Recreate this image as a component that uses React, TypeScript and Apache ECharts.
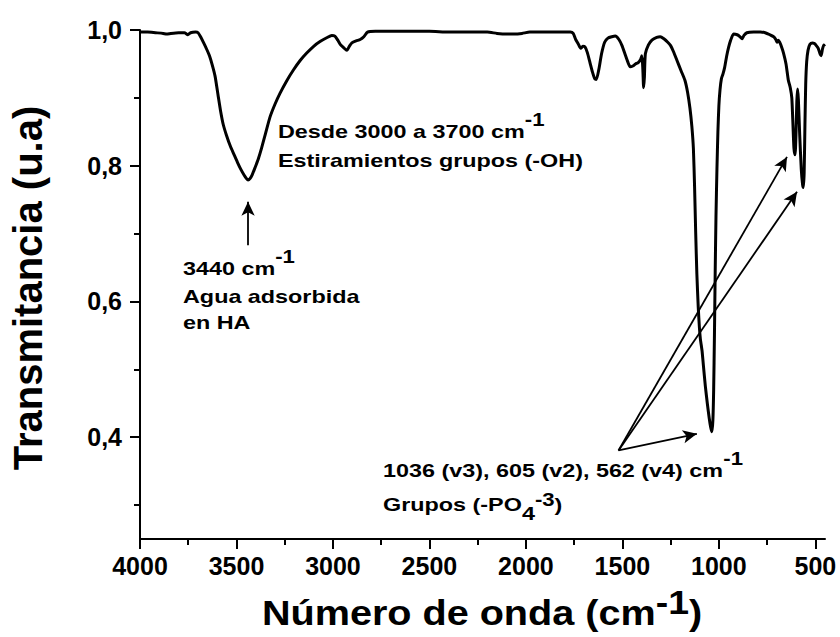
import React, { useEffect, useRef } from "react";
import * as echarts from "echarts";

// FTIR spectrum of hydroxyapatite (HA)
const wavenumber = [
  4000, 3960, 3920, 3880, 3862, 3840, 3800, 3770, 3752, 3738, 3712, 3699, 3686, 3670, 3655, 3640,
  3625, 3611, 3596, 3582, 3568, 3552, 3532, 3512, 3495, 3478, 3460, 3448, 3440, 3430, 3418, 3404,
  3387, 3370, 3350, 3326, 3300, 3274, 3240, 3205, 3170, 3136, 3100, 3067, 3030, 3006, 2990, 2975,
  2960, 2945, 2928, 2915, 2902, 2880, 2859, 2840, 2821, 2780, 2700, 2600, 2500, 2400, 2300, 2200,
  2150, 2100, 2060, 2020, 1980, 1900, 1822, 1770, 1755, 1742, 1728, 1716, 1705, 1694, 1682, 1668,
  1655, 1643, 1635, 1622, 1608, 1592, 1575, 1555, 1537, 1518, 1502, 1487, 1472, 1460, 1446, 1432,
  1418, 1405, 1399, 1394, 1390, 1386, 1381, 1365, 1347, 1322, 1304, 1285, 1265, 1250, 1235, 1217,
  1196, 1176, 1162, 1150, 1140, 1132, 1126, 1120, 1114, 1107, 1101, 1096, 1091, 1087, 1080, 1070,
  1060, 1050, 1042, 1036, 1031, 1027, 1023, 1019, 1015, 1010, 1005, 1000, 994, 987, 979, 970,
  960, 950, 940, 924, 905, 890, 880, 870, 855, 820, 785, 760, 735, 715, 705, 698,
  692, 685, 675, 665, 652, 640, 630, 622, 616, 611, 605, 600, 596, 592, 588, 581,
  573, 566, 562, 558, 554, 550, 545, 538, 528, 515, 505, 495, 485, 476, 470, 463,
  456, 452,
];

const transmittance = [
  0.997, 0.997, 0.996, 0.995, 0.994, 0.995, 0.996, 0.996, 0.993, 0.996, 0.997, 0.996, 0.99, 0.981, 0.972, 0.962,
  0.948, 0.932, 0.905, 0.88, 0.86, 0.845, 0.829, 0.816, 0.805, 0.795, 0.786, 0.781, 0.779, 0.781, 0.787, 0.797,
  0.81, 0.826, 0.847, 0.872, 0.891, 0.907, 0.925, 0.941, 0.955, 0.966, 0.976, 0.983, 0.989, 0.992, 0.991, 0.985,
  0.978, 0.974, 0.97, 0.976, 0.981, 0.984, 0.986, 0.99, 0.997, 0.998, 0.998, 0.998, 0.998, 0.997, 0.997, 0.997,
  0.995, 0.994, 0.994, 0.995, 0.997, 0.997, 0.997, 0.997, 0.995, 0.986, 0.979, 0.973, 0.976, 0.975, 0.967, 0.952,
  0.938, 0.928, 0.927, 0.942, 0.965, 0.982, 0.988, 0.99, 0.991, 0.986, 0.977, 0.965, 0.953, 0.946, 0.947, 0.95,
  0.952, 0.957, 0.962, 0.942, 0.915, 0.93, 0.965, 0.978, 0.985, 0.989, 0.99, 0.987, 0.982, 0.977, 0.968, 0.955,
  0.94, 0.926, 0.908, 0.885, 0.858, 0.825, 0.77, 0.7, 0.64, 0.592, 0.562, 0.545, 0.535, 0.527, 0.505, 0.475,
  0.45, 0.428, 0.414, 0.408, 0.425, 0.47, 0.55, 0.645, 0.725, 0.795, 0.85, 0.888, 0.912, 0.928, 0.935, 0.945,
  0.961, 0.974, 0.984, 0.994, 0.993, 0.99, 0.987, 0.992, 0.996, 0.997, 0.997, 0.996, 0.993, 0.99, 0.986, 0.982,
  0.985, 0.982, 0.975, 0.966, 0.95, 0.926, 0.915, 0.9, 0.86, 0.826, 0.816, 0.85, 0.895, 0.913, 0.898, 0.845,
  0.795, 0.772, 0.768, 0.79, 0.86, 0.92, 0.953, 0.97, 0.979, 0.981, 0.98, 0.977, 0.973, 0.965, 0.962, 0.972,
  0.978, 0.976,
];

const xTicks = [4000, 3500, 3000, 2500, 2000, 1500, 1000, 500];
const yTicks = [0.4, 0.6, 0.8, 1.0];

// Annotation arrows, in (wavenumber, transmittance) coordinates
const ohArrowTail = [3440, 0.683];
const ohArrowTip = [3440, 0.747];
const po4ArrowTail = [1520, 0.3805];
const po4ArrowTips = [
  [1114, 0.405],
  [647, 0.813],
  [595, 0.7615],
];

const FONT = '"Liberation Sans", Arial, Helvetica, sans-serif';
const NOTE_SIZE = 19;
const NOTE_SCALE = 1.23;

const noteRich = {
  t: { fontSize: NOTE_SIZE, fontWeight: "bold", fontFamily: FONT, fill: "#000", verticalAlign: "bottom" },
  tl: { fontSize: NOTE_SIZE, fontWeight: "bold", fontFamily: FONT, fill: "#000", verticalAlign: "bottom", padding: [0, 0, 9, 0] },
  s: { fontSize: 18, fontWeight: "bold", fontFamily: FONT, fill: "#000", verticalAlign: "bottom", padding: [0, 0, 12, 0] },
  sub: { fontSize: NOTE_SIZE, fontWeight: "bold", fontFamily: FONT, fill: "#000", verticalAlign: "bottom" },
  s3: { fontSize: 18, fontWeight: "bold", fontFamily: FONT, fill: "#000", verticalAlign: "bottom", padding: [0, 0, 14, 0] },
};

function note(x: number, y: number, text: string) {
  return {
    type: "text",
    x,
    y,
    scaleX: NOTE_SCALE,
    silent: true,
    style: { text, rich: noteRich, align: "left", verticalAlign: "bottom" },
  };
}

export default function App() {
  const ref = useRef<HTMLDivElement>(null);

  useEffect(() => {
    if (!ref.current) return;
    const chart = echarts.init(ref.current, undefined, { renderer: "svg" });

    const points = wavenumber.map((w, i) => [w, transmittance[i]]);
    const axisColor = "#000";

    chart.setOption({
      animation: false,
      backgroundColor: "#fff",
      grid: { left: 140, right: 15, top: 30, bottom: 98, containLabel: false, outerBoundsMode: "none" },
      xAxis: {
        type: "value",
        inverse: true,
        min: 450,
        max: 4000,
        splitNumber: 7,
        axisLine: { show: true, onZero: false, lineStyle: { color: axisColor, width: 2 } },
        axisTick: { show: true, length: 10, customValues: xTicks, lineStyle: { color: axisColor, width: 2 } },
        minorTick: { show: true, splitNumber: 2, length: 6, lineStyle: { color: axisColor, width: 2 } },
        axisLabel: {
          customValues: xTicks,
          color: "#000",
          fontSize: 25,
          fontWeight: "bold",
          fontFamily: FONT,
          margin: 14,
          formatter: (v: number) => String(v),
        },
        splitLine: { show: false },
        minorSplitLine: { show: false },
      },
      yAxis: {
        type: "value",
        min: 0.25,
        max: 1.0,
        splitNumber: 4,
        axisLine: { show: true, onZero: false, lineStyle: { color: axisColor, width: 2 } },
        axisTick: { show: true, length: 10, customValues: yTicks, lineStyle: { color: axisColor, width: 2 } },
        minorTick: { show: true, splitNumber: 2, length: 6, lineStyle: { color: axisColor, width: 2 } },
        axisLabel: {
          customValues: yTicks,
          color: "#000",
          fontSize: 25,
          fontWeight: "bold",
          fontFamily: FONT,
          margin: 18,
          formatter: (v: number) => v.toFixed(1).replace(".", ","),
        },
        splitLine: { show: false },
        minorSplitLine: { show: false },
      },
      series: [
        {
          type: "line",
          data: points,
          showSymbol: false,
          smooth: 0.2,
          silent: true,
          lineStyle: { color: "#000", width: 3, join: "round" },
          markLine: {
            silent: true,
            symbol: ["none", "arrow"],
            symbolSize: [10, 14],
            label: { show: false },
            emphasis: { disabled: true },
            lineStyle: { color: "#000", width: 1.8, type: "solid" },
            data: [
              [{ coord: ohArrowTail }, { coord: ohArrowTip }],
              ...po4ArrowTips.map((tip) => [{ coord: po4ArrowTail }, { coord: tip }]),
            ],
          },
        },
      ],
      graphic: [
        note(278, 141, "{t|Desde 3000 a 3700 cm}{s|-1}"),
        note(278, 170, "{t|Estiramientos grupos (-OH)}"),
        note(183, 278, "{t|3440 cm}{s|-1}"),
        note(183, 306, "{t|Agua adsorbida}"),
        note(183, 332, "{t|en HA}"),
        note(383, 480, "{t|1036 (v3), 605 (v2), 562 (v4) cm}{s|-1}"),
        note(383, 523, "{tl|Grupos (-PO}{sub|4}{s3|-3}{tl|)}"),
        {
          type: "text",
          x: 482,
          y: 631,
          scaleX: 1.1,
          silent: true,
          style: {
            text: "{a|Número de onda (cm}{b|-1}{a|)}",
            align: "center",
            verticalAlign: "bottom",
            rich: {
              a: { fontSize: 36, fontWeight: "bold", fontFamily: FONT, fill: "#000", verticalAlign: "bottom" },
              b: { fontSize: 34, fontWeight: "bold", fontFamily: FONT, fill: "#000", verticalAlign: "bottom", padding: [0, 0, 11, 0] },
            },
          },
        },
        {
          type: "text",
          x: 28,
          y: 288,
          rotation: Math.PI / 2,
          silent: true,
          style: {
            text: "Transmitancia (u.a)",
            align: "center",
            verticalAlign: "middle",
            fontSize: 40,
            fontWeight: "bold",
            fontFamily: FONT,
            fill: "#000",
          },
        },
      ],
    });

    return () => chart.dispose();
  }, []);

  return (
    <div
      ref={ref}
      style={{ position: "fixed", left: 0, top: 0, width: 840, height: 637, background: "#fff" }}
    />
  );
}
